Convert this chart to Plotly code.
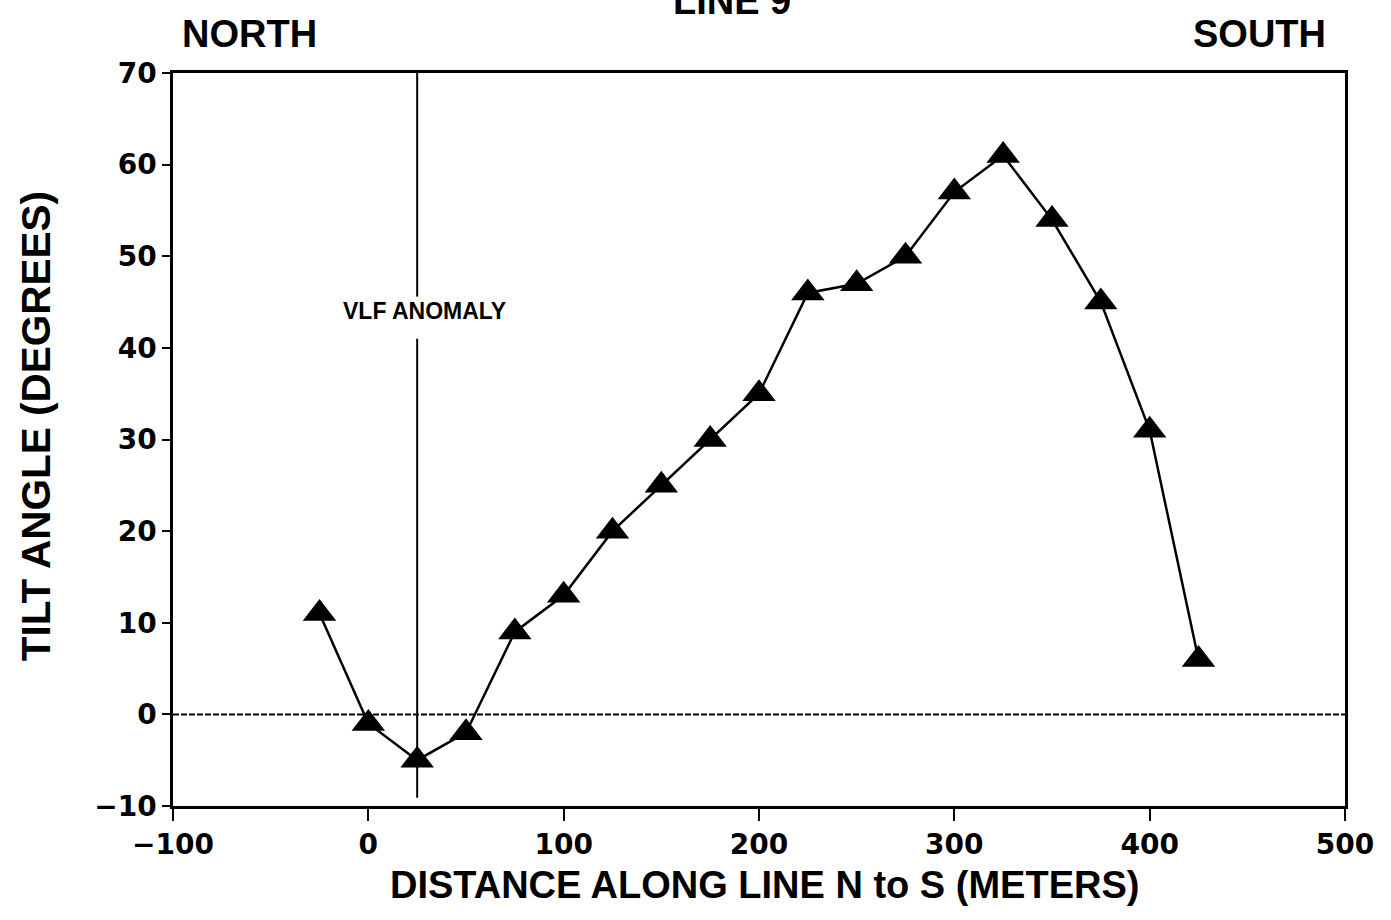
import plotly.graph_objects as go

# VLF tilt-angle survey, line 9 (north to south)
distance_m = [-25, 0, 25, 50, 75, 100, 125, 150, 175, 200, 225, 250, 275,
              300, 325, 350, 375, 400, 425]
tilt_deg = [11, -1, -5, -2, 9, 13, 20, 25, 30, 35, 46, 47, 50, 57, 61, 54,
            45, 31, 6]

x_ticks = [-100, 0, 100, 200, 300, 400, 500]
y_ticks = [-10, 0, 10, 20, 30, 40, 50, 60, 70]

# anomaly marker position and the gap left around its label
anomaly_x = 25
anomaly_upper = [70, 45.6]
anomaly_lower = [41.0, -9.1]
anomaly_label_y = 44.0

label_font = "Liberation Sans, Arial, sans-serif"
tick_font = "DejaVu Sans, sans-serif"

fig = go.Figure()

fig.add_trace(go.Scatter(
    x=distance_m, y=tilt_deg, mode="lines+markers",
    line=dict(color="black", width=2.5),
    marker=dict(symbol="triangle-up", size=29, color="black"),
    showlegend=False,
))

# zero reference line
fig.add_shape(type="line", xref="paper", x0=0, x1=1, yref="y", y0=0, y1=0,
              line=dict(color="black", width=2, dash="6px,2px"))

# anomaly line (broken where the label sits)
for seg in (anomaly_upper, anomaly_lower):
    fig.add_shape(type="line", xref="x", yref="y",
                  x0=anomaly_x, x1=anomaly_x, y0=seg[0], y1=seg[1],
                  line=dict(color="black", width=2))

fig.add_annotation(x=anomaly_x, y=anomaly_label_y, xref="x", yref="y",
                   xshift=7,
                   text="<b>VLF ANOMALY</b>", showarrow=False,
                   font=dict(family=label_font, size=23, color="black"))

fig.add_annotation(x=0.0, y=1.053, xref="paper", yref="paper", xanchor="left",
                   yanchor="middle", xshift=7,
                   text="<b>NORTH</b>", showarrow=False,
                   font=dict(family=label_font, size=38, color="black"))
fig.add_annotation(x=1.0, y=1.053, xref="paper", yref="paper", xanchor="right",
                   yanchor="middle", xshift=-17,
                   text="<b>SOUTH</b>", showarrow=False,
                   font=dict(family=label_font, size=38, color="black"))
fig.add_annotation(x=0.477, y=1.098, xref="paper", yref="paper",
                   yanchor="middle",
                   text="<b>LINE 9</b>", showarrow=False,
                   font=dict(family=label_font, size=38, color="black"))

fig.add_annotation(x=0.505, y=-0.1078, xref="paper", yref="paper",
                   yanchor="middle",
                   text="<b>DISTANCE ALONG LINE N to S (METERS)</b>",
                   showarrow=False,
                   font=dict(family=label_font, size=38, color="black"))
fig.add_annotation(x=-0.117, y=0.518, xref="paper", yref="paper",
                   textangle=-90, xanchor="center", yanchor="middle",
                   text="<b>TILT ANGLE (DEGREES)</b>", showarrow=False,
                   font=dict(family=label_font, size=40.5, color="black"))

axis_common = dict(showgrid=False, zeroline=False, showline=True,
                   linecolor="black", linewidth=2.5, mirror=True,
                   ticks="outside", tickcolor="black", tickwidth=2,
                   tickfont=dict(family=tick_font, size=28, color="black",
                                 weight="bold"))

fig.update_xaxes(range=[-100, 500], tickvals=x_ticks,
                 ticktext=[str(v).replace("-", "\u2212") for v in x_ticks],
                 ticklen=12, **axis_common)
fig.update_yaxes(range=[-10, 70], tickvals=y_ticks,
                 ticktext=[str(v).replace("-", "\u2212") for v in y_ticks],
                 ticklen=8, **axis_common)

fig.update_layout(
    width=1391, height=920,
    margin=dict(l=173, r=46, t=73, b=114),
    paper_bgcolor="white", plot_bgcolor="white",
)

fig.write_html("out.html")
